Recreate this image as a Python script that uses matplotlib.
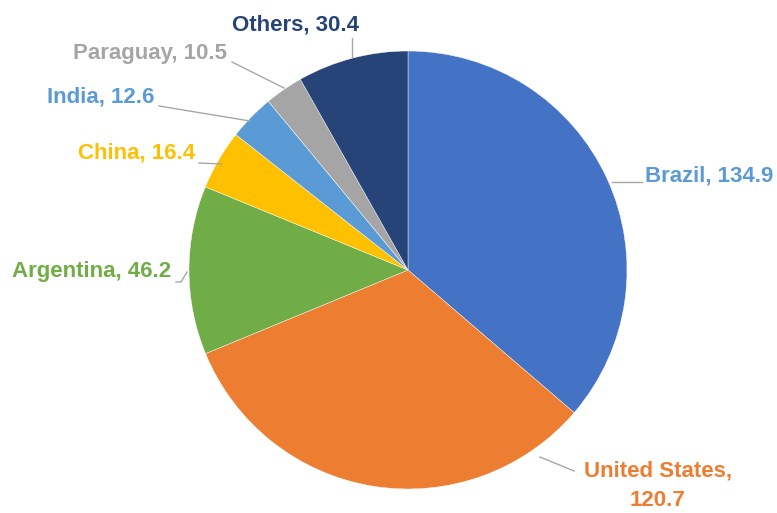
import matplotlib
matplotlib.use("Agg")
import matplotlib.pyplot as plt

categories = ["Brazil", "United States", "Argentina", "China", "India", "Paraguay", "Others"]
values = [134.9, 120.7, 46.2, 16.4, 12.6, 10.5, 30.4]
label_texts = ["Brazil, 134.9", "United States,\n120.7", "Argentina, 46.2", "China, 16.4",
               "India, 12.6", "Paraguay, 10.5", "Others, 30.4"]

colors = ["#4472C4", "#ED7D31", "#70AD47", "#FFC000", "#5B9BD5", "#A5A5A5", "#264478"]
text_colors = ["#5B9BD5", "#ED7D31", "#70AD47", "#FFC000", "#5B9BD5", "#A5A5A5", "#264478"]

W, H = 777, 513
# label layout in pixel coords (x, y, ha) and leader segments (start, end)
label_pos = [(645, 176, "left"), (658, 486, "center"), (12, 272, "left"), (78, 153, "left"),
             (47, 97, "left"), (73, 53, "left"), (232, 25, "left")]
leaders = [((612, 182), (642, 182)), ((540, 457), (574, 471)), ((187, 272), (181, 282), (176, 282)),
           ((222, 164), (199, 163)), ((250, 121), (159, 106)), ((284, 88), (232, 62)),
           ((352, 57), (352, 38))]

fig = plt.figure(figsize=(W / 100, H / 100), dpi=100)
ax = fig.add_axes([0, 0, 1, 1])

ax.pie(values, colors=colors, startangle=90, counterclock=False,
       center=(408, H - 270), radius=219, frame=True,
       wedgeprops=dict(linewidth=0.3, edgecolor="#ffffff"))
ax.set_xlim(0, W)
ax.set_ylim(0, H)
ax.set_aspect("equal")
ax.axis("off")

for seg in leaders:
    ax.plot([p[0] for p in seg], [H - p[1] for p in seg], color="#A6A6A6", lw=1, zorder=1)

for txt, (x, y, ha), c in zip(label_texts, label_pos, text_colors):
    ax.text(x, H - y, txt, ha=ha, va="center", color=c, fontsize=16,
            fontweight="bold", family="Liberation Sans", linespacing=1.5)

fig.savefig("out.png", dpi=100)
